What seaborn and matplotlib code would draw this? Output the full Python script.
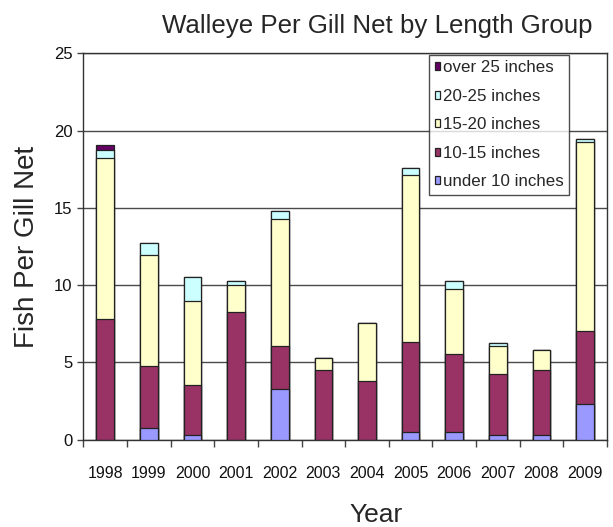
import numpy as np
import pandas as pd
import matplotlib
matplotlib.use('Agg')
import matplotlib.pyplot as plt
import seaborn as sns

years = ['1998', '1999', '2000', '2001', '2002', '2003',
         '2004', '2005', '2006', '2007', '2008', '2009']

under_10 = [0.0, 0.76, 0.30, 0.0, 3.26, 0.0, 0.0, 0.50, 0.50, 0.30, 0.30, 2.29]
in_10_15 = [7.80, 4.00, 3.22, 8.25, 2.77, 4.51, 3.78, 5.79, 5.03, 3.95, 4.21, 4.73]
in_15_20 = [10.45, 7.22, 5.48, 1.75, 8.22, 0.76, 3.78, 10.81, 4.23, 1.80, 1.28, 12.25]
in_20_25 = [0.48, 0.75, 1.52, 0.26, 0.52, 0.0, 0.0, 0.50, 0.50, 0.21, 0.0, 0.21]
over_25 = [0.32, 0.0, 0.0, 0.0, 0.0, 0.0, 0.0, 0.0, 0.0, 0.0, 0.0, 0.0]

groups = ['under 10 inches', '10-15 inches', '15-20 inches', '20-25 inches', 'over 25 inches']
colors = ['#9999FF', '#993366', '#FFFFCC', '#CCFFFF', '#660066']

sns.set_style('white')
plt.rcParams['font.family'] = ['Liberation Sans', 'DejaVu Sans']

df = pd.DataFrame({'year': years, groups[0]: under_10, groups[1]: in_10_15,
                   groups[2]: in_15_20, groups[3]: in_20_25, groups[4]: over_25})
cum = df[groups].cumsum(axis=1)

fig = plt.figure(figsize=(6.13, 5.27), dpi=100)
ax = fig.add_axes([0.1362, 0.166, 0.8538, 0.7325])

# stacked bars: draw cumulative totals from the top group down
for g, c in reversed(list(zip(groups, colors))):
    sns.barplot(x=df['year'], y=cum[g], color=c, width=0.405, saturation=1,
                edgecolor='#222222', linewidth=0.9, ax=ax, label=g, zorder=3)

ax.set_ylim(0, 25)
ax.set_yticks([0, 5, 10, 15, 20, 25])
ax.set_xlim(-0.5, 11.5)
ax.yaxis.grid(True, color='#4a4a4a', linewidth=1, zorder=0)
ax.set_axisbelow(True)
for s in ax.spines.values():
    s.set_color('#333333')
    s.set_linewidth(1)

ax.set_xticks(np.arange(-0.5, 12, 1), minor=True)
ax.tick_params(axis='x', which='major', length=0, pad=19, labelsize=11.5, labelcolor='#111111')
ax.tick_params(axis='x', which='minor', length=5, width=1, color='#444444', direction='out', bottom=True)
ax.tick_params(axis='y', length=4, width=1, color='#444444', direction='out', left=True, pad=4,
               labelsize=12, labelcolor='#111111')

ax.set_title('Walleye Per Gill Net by Length Group', fontsize=18.6, x=0.561, pad=15)
ax.set_xlabel('Year', fontsize=19, x=0.56, labelpad=16)
ax.set_ylabel('Fish Per Gill Net', fontsize=20, labelpad=10)

handles, labels = ax.get_legend_handles_labels()
leg = ax.legend(handles, labels, loc='upper right', bbox_to_anchor=(0.928, 0.997),
                fontsize=12.2, frameon=True, fancybox=False, edgecolor='#222222',
                handlelength=0.35, handleheight=0.35, handletextpad=0.15,
                labelspacing=0.8, borderpad=0.32, borderaxespad=0)
leg.get_frame().set_linewidth(1)

fig.savefig('out.png', dpi=100)
